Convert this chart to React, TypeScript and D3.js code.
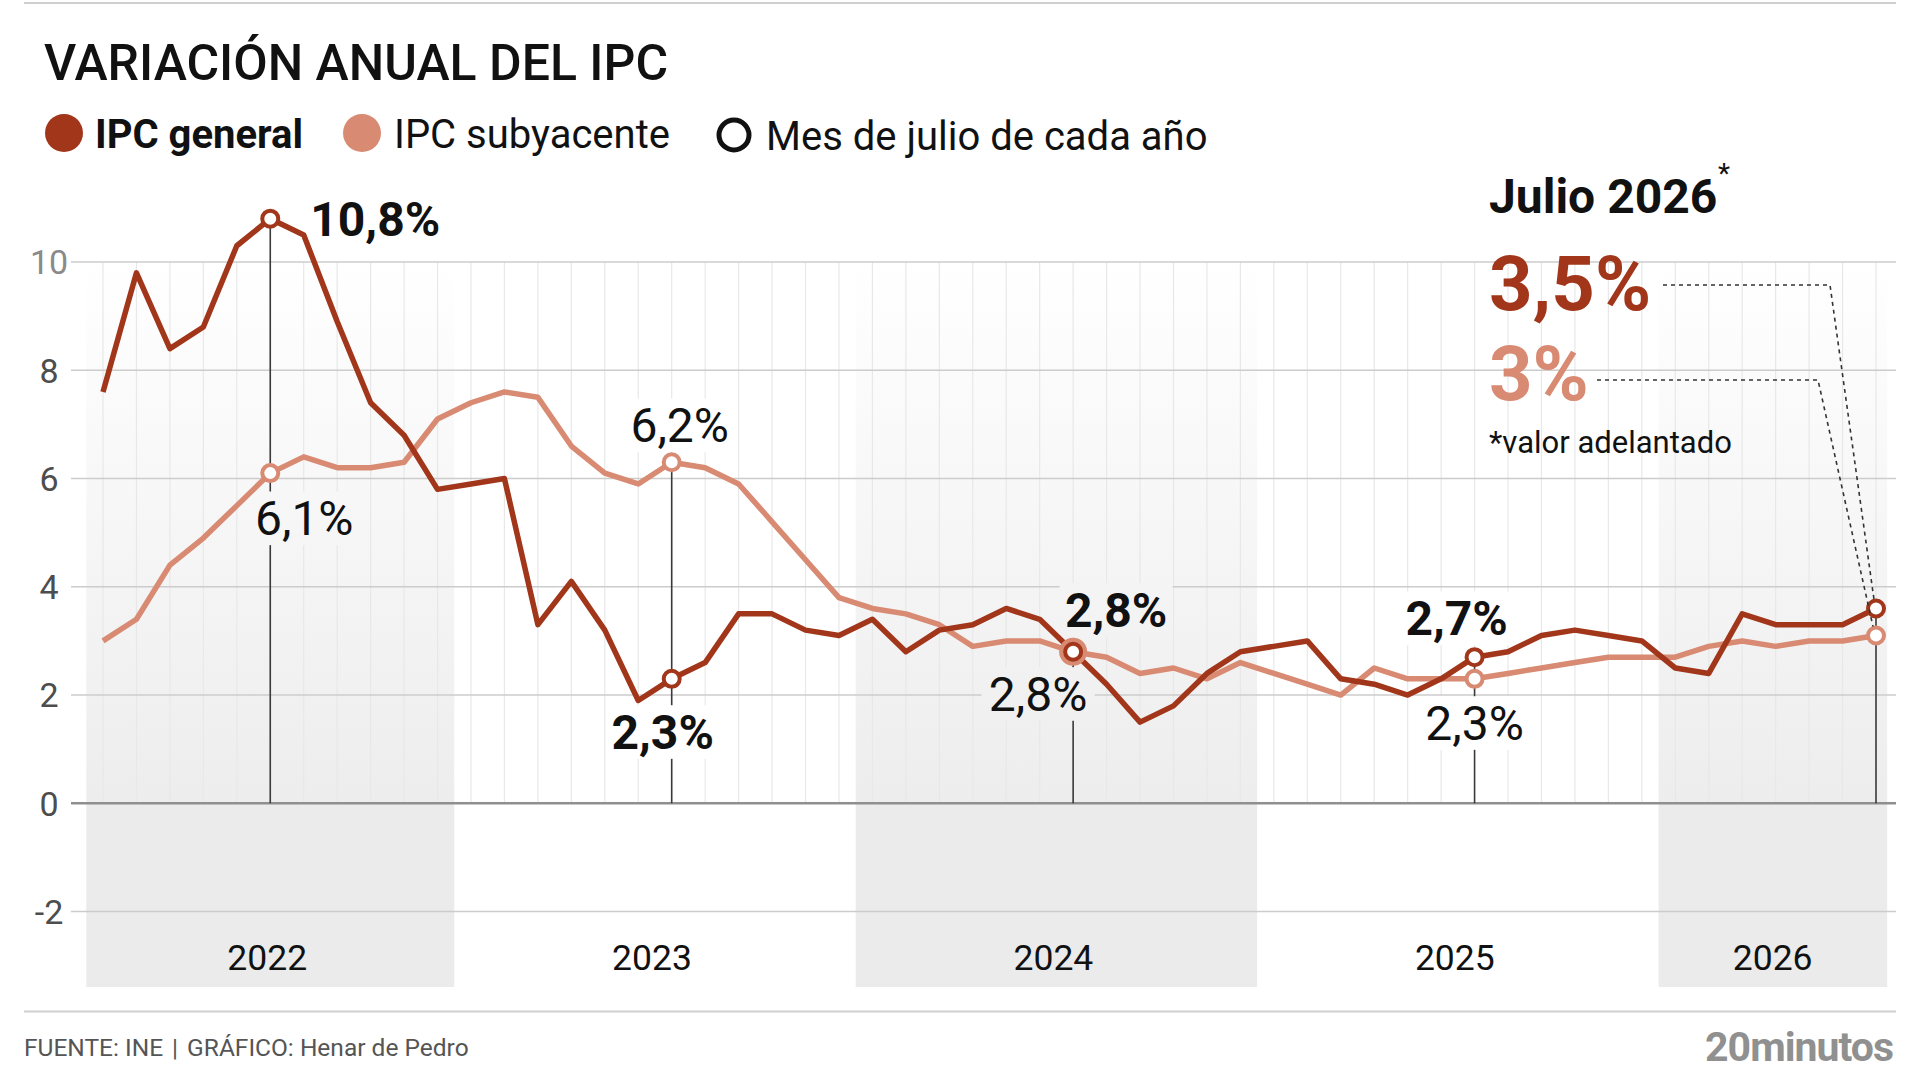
import React, { useEffect } from 'react';
import * as d3 from 'd3';

// months shown: Feb 2022 .. Jul 2026
const months = d3.timeMonth.range(new Date(2022, 1, 1), new Date(2026, 7, 1));
const monthKeys = months.map((d) => d3.timeFormat('%Y-%m')(d));

// IPC general, annual variation (%)
const ipcGeneral = [
  7.6, 9.8, 8.4, 8.8, 10.3, 10.8, 10.5, 8.9, 7.4, 6.8, 5.8,
  5.9, 6.0, 3.3, 4.1, 3.2, 1.9, 2.3, 2.6, 3.5, 3.5, 3.2, 3.1,
  3.4, 2.8, 3.2, 3.3, 3.6, 3.4, 2.8, 2.2, 1.5, 1.8, 2.4, 2.8,
  2.9, 3.0, 2.3, 2.2, 2.0, 2.3, 2.7, 2.8, 3.1, 3.2, 3.1, 3.0,
  2.5, 2.4, 3.5, 3.3, 3.3, 3.3, 3.6,
];

// IPC subyacente (core)
const ipcSubyacente = [
  3.0, 3.4, 4.4, 4.9, 5.5, 6.1, 6.4, 6.2, 6.2, 6.3, 7.1,
  7.4, 7.6, 7.5, 6.6, 6.1, 5.9, 6.3, 6.2, 5.9, 5.2, 4.5, 3.8,
  3.6, 3.5, 3.3, 2.9, 3.0, 3.0, 2.8, 2.7, 2.4, 2.5, 2.3, 2.6,
  2.4, 2.2, 2.0, 2.5, 2.3, 2.3, 2.3, 2.4, 2.5, 2.6, 2.7, 2.7,
  2.7, 2.9, 3.0, 2.9, 3.0, 3.0, 3.1,
];

const years = [2022, 2023, 2024, 2025, 2026];
const shadedYears = [2022, 2024, 2026];
const yTicks = [-2, 0, 2, 4, 6, 8, 10];

// value labels at each July
const julyLabels = [
  { key: '2022-07', series: 'general', text: '10,8%', bold: true, dx: 40, dy: 17, anchor: 'start' },
  { key: '2022-07', series: 'core', text: '6,1%', bold: false, dx: 34, dy: 62, anchor: 'middle' },
  { key: '2023-07', series: 'core', text: '6,2%', bold: false, dx: 8, dy: -20, anchor: 'middle' },
  { key: '2023-07', series: 'general', text: '2,3%', bold: true, dx: -9, dy: 70, anchor: 'middle' },
  { key: '2024-07', series: 'general', text: '2,8%', bold: true, dx: 43, dy: -25, anchor: 'middle' },
  { key: '2024-07', series: 'core', text: '2,8%', bold: false, dx: -35, dy: 59, anchor: 'middle' },
  { key: '2025-07', series: 'general', text: '2,7%', bold: true, dx: -18, dy: -22, anchor: 'middle' },
  { key: '2025-07', series: 'core', text: '2,3%', bold: false, dx: 0, dy: 61, anchor: 'middle' },
];

const C_GEN = '#a1361a';
const C_CORE = '#d88a72';
const FONT = 'Roboto';
const LABEL_FS = 48;

const App: React.FC = () => {
  useEffect(() => {
    document.body.style.margin = '0';
  }, []);

  const x = d3.scalePoint<string>().domain(monthKeys).range([103, 1876]);
  const y = d3.scaleLinear().domain([-2, 10]).range([911.6, 262]);
  const step = x.step();
  const px = (k: string) => x(k) as number;
  const xLeft = px(monthKeys[0]) - step / 2;
  const xRight = px(monthKeys[monthKeys.length - 1]) + step / 3;
  const bandBottom = 987;

  const line = d3
    .line<number>()
    .x((_, i) => px(monthKeys[i]))
    .y((d) => y(d));

  const julyIdx = months.map((d, i) => (d.getMonth() === 6 ? i : -1)).filter((i) => i >= 0);

  const yearRange = (yr: number) => {
    const idx = months.map((d, i) => (d.getFullYear() === yr ? i : -1)).filter((i) => i >= 0);
    return [idx[0], idx[idx.length - 1]];
  };

  const inShaded = (k: string) => shadedYears.includes(+k.slice(0, 4));

  const last = monthKeys.length - 1;
  const lastX = px(monthKeys[last]);

  return (
    <svg width={1920} height={1080} style={{ display: 'block', position: 'absolute', left: 0, top: 0 }} fontFamily={FONT}>
      <defs>
        <linearGradient id="bandGrad" gradientUnits="userSpaceOnUse" x1={0} y1={y(10)} x2={0} y2={y(0)}>
          <stop offset="0%" stopColor="#ffffff" />
          <stop offset="100%" stopColor="#ededed" />
        </linearGradient>
      </defs>
      <rect width={1920} height={1080} fill="#fff" />

      {/* top rule */}
      <line x1={24} x2={1896} y1={3} y2={3} stroke="#cfcfcf" strokeWidth={2} />

      {/* title */}
      <text x={44} y={80} fontSize={50} fontWeight={500} fill="#111">VARIACIÓN ANUAL DEL IPC</text>

      {/* legend */}
      <circle cx={64} cy={133} r={19} fill={C_GEN} />
      <text x={95} y={148} fontSize={40} fontWeight={700} fill="#111">IPC general</text>
      <circle cx={362} cy={133} r={19} fill={C_CORE} />
      <text x={394} y={148} fontSize={40} fill="#111">IPC subyacente</text>
      <circle cx={734} cy={135} r={15} fill="#fff" stroke="#111" strokeWidth={5} />
      <text x={766} y={150} fontSize={40} fill="#111">Mes de julio de cada año</text>

      {/* year bands */}
      {shadedYears.map((yr) => {
        const [i0, i1] = yearRange(yr);
        const x0 = Math.max(xLeft, px(monthKeys[i0]) - step / 2);
        const x1 = Math.min(xRight, px(monthKeys[i1]) + step / 2);
        return (
          <g key={yr}>
            <rect x={x0} y={y(10)} width={x1 - x0} height={y(0) - y(10)} fill="url(#bandGrad)" />
            <rect x={x0} y={y(0)} width={x1 - x0} height={bandBottom - y(0)} fill="#ebebeb" />
          </g>
        );
      })}

      {/* monthly vertical lines */}
      {monthKeys.map((k) => (
        <line key={k} x1={px(k)} x2={px(k)} y1={y(10)} y2={y(0)} stroke="#e8e8e8" strokeWidth={1.2} />
      ))}

      {/* horizontal grid */}
      {yTicks.map((t) => (
        <g key={t}>
          <line
            x1={71}
            x2={1896}
            y1={y(t)}
            y2={y(t)}
            stroke={t === 0 ? '#8f8f8f' : '#cccccc'}
            strokeWidth={t === 0 ? 2.5 : 1.5}
          />
          <text x={49} y={y(t)} dy="0.36em" textAnchor="middle" fontSize={34} fill={t === 10 ? '#8a8a8a' : '#4d4d4d'}>
            {t}
          </text>
        </g>
      ))}

      {/* year labels */}
      {years.map((yr) => {
        const [i0, i1] = yearRange(yr);
        return (
          <text key={yr} x={(px(monthKeys[i0]) + px(monthKeys[i1])) / 2 - 3} y={970} textAnchor="middle" fontSize={35.5} fill="#111">
            {yr}
          </text>
        );
      })}

      {/* July reference lines */}
      {julyIdx.map((i) => (
        <line
          key={i}
          x1={px(monthKeys[i])}
          x2={px(monthKeys[i])}
          y1={y(Math.max(ipcGeneral[i], ipcSubyacente[i]))}
          y2={y(0)}
          stroke="#3a3a3a"
          strokeWidth={1.6}
        />
      ))}

      {/* label backgrounds (hide lines behind labels) */}
      {julyLabels.map((l, j) => {
        const i = monthKeys.indexOf(l.key);
        const v = l.series === 'general' ? ipcGeneral[i] : ipcSubyacente[i];
        const fs = LABEL_FS;
        const w = fs * (0.52 * (l.text.length - 2) + 0.2 + 0.7);
        const tx = px(l.key) + l.dx;
        const ty = y(v) + l.dy;
        const x0 = l.anchor === 'start' ? tx : tx - w / 2;
        return (
          <rect
            key={j}
            x={x0 - 10}
            y={ty - fs * 0.7 - 10}
            width={w + 20}
            height={fs * 0.7 + 20}
            fill={inShaded(l.key) ? 'url(#bandGrad)' : '#ffffff'}
          />
        );
      })}

      {/* series */}
      <path d={line(ipcSubyacente) || ''} fill="none" stroke={C_CORE} strokeWidth={5.5} strokeLinejoin="round" />
      <path d={line(ipcGeneral) || ''} fill="none" stroke={C_GEN} strokeWidth={5.5} strokeLinejoin="round" />

      {/* July markers */}
      {julyIdx.map((i) => {
        const overlap = Math.abs(ipcGeneral[i] - ipcSubyacente[i]) < 0.3;
        return (
          <g key={i}>
            <circle
              cx={px(monthKeys[i])}
              cy={y(ipcSubyacente[i])}
              r={overlap ? 11 : 8}
              fill="#fff"
              stroke={C_CORE}
              strokeWidth={overlap ? 6 : 4}
            />
            <circle cx={px(monthKeys[i])} cy={y(ipcGeneral[i])} r={8} fill="#fff" stroke={C_GEN} strokeWidth={4} />
          </g>
        );
      })}

      {/* July value labels */}
      {julyLabels.map((l, j) => {
        const i = monthKeys.indexOf(l.key);
        const v = l.series === 'general' ? ipcGeneral[i] : ipcSubyacente[i];
        return (
          <text
            key={j}
            x={px(l.key) + l.dx}
            y={y(v) + l.dy}
            textAnchor={l.anchor as any}
            fontSize={LABEL_FS}
            fontWeight={l.bold ? 700 : 400}
            fill="#111"
          >
            {l.text}
          </text>
        );
      })}

      {/* latest value annotation */}
      <text x={1489} y={213} fontSize={48} fontWeight={700} fill="#111">Julio 2026</text>
      <text x={1718} y={183} fontSize={28} fill="#111">*</text>
      <text x={1489} y={310} fontSize={76} fontWeight={700} fill={C_GEN}>3,5%</text>
      <text x={1489} y={400} fontSize={76} fontWeight={700} fill={C_CORE}>3%</text>
      <text x={1489} y={453} fontSize={31} fill="#111">*valor adelantado</text>
      <path
        d={`M1663,285 H1830 L${lastX - 2},${y(ipcGeneral[last]) - 9}`}
        fill="none"
        stroke="#333"
        strokeWidth={1.6}
        strokeDasharray="4 4"
      />
      <path
        d={`M1597,380 H1818 L${lastX - 3},${y(ipcSubyacente[last]) - 9}`}
        fill="none"
        stroke="#333"
        strokeWidth={1.6}
        strokeDasharray="4 4"
      />

      {/* footer */}
      <line x1={24} x2={1896} y1={1011.5} y2={1011.5} stroke="#cfcfcf" strokeWidth={2} />
      <text x={24} y={1056} fontSize={24.5} fill="#555">
        <tspan>FUENTE: INE</tspan>
        <tspan dx={9}>|</tspan>
        <tspan dx={9}>GRÁFICO: Henar de Pedro</tspan>
      </text>
      <text x={1893} y={1061} textAnchor="end" fontSize={41} fontWeight={700} fill="#909090" letterSpacing={-1}>
        20minutos
      </text>
    </svg>
  );
};

export default App;
